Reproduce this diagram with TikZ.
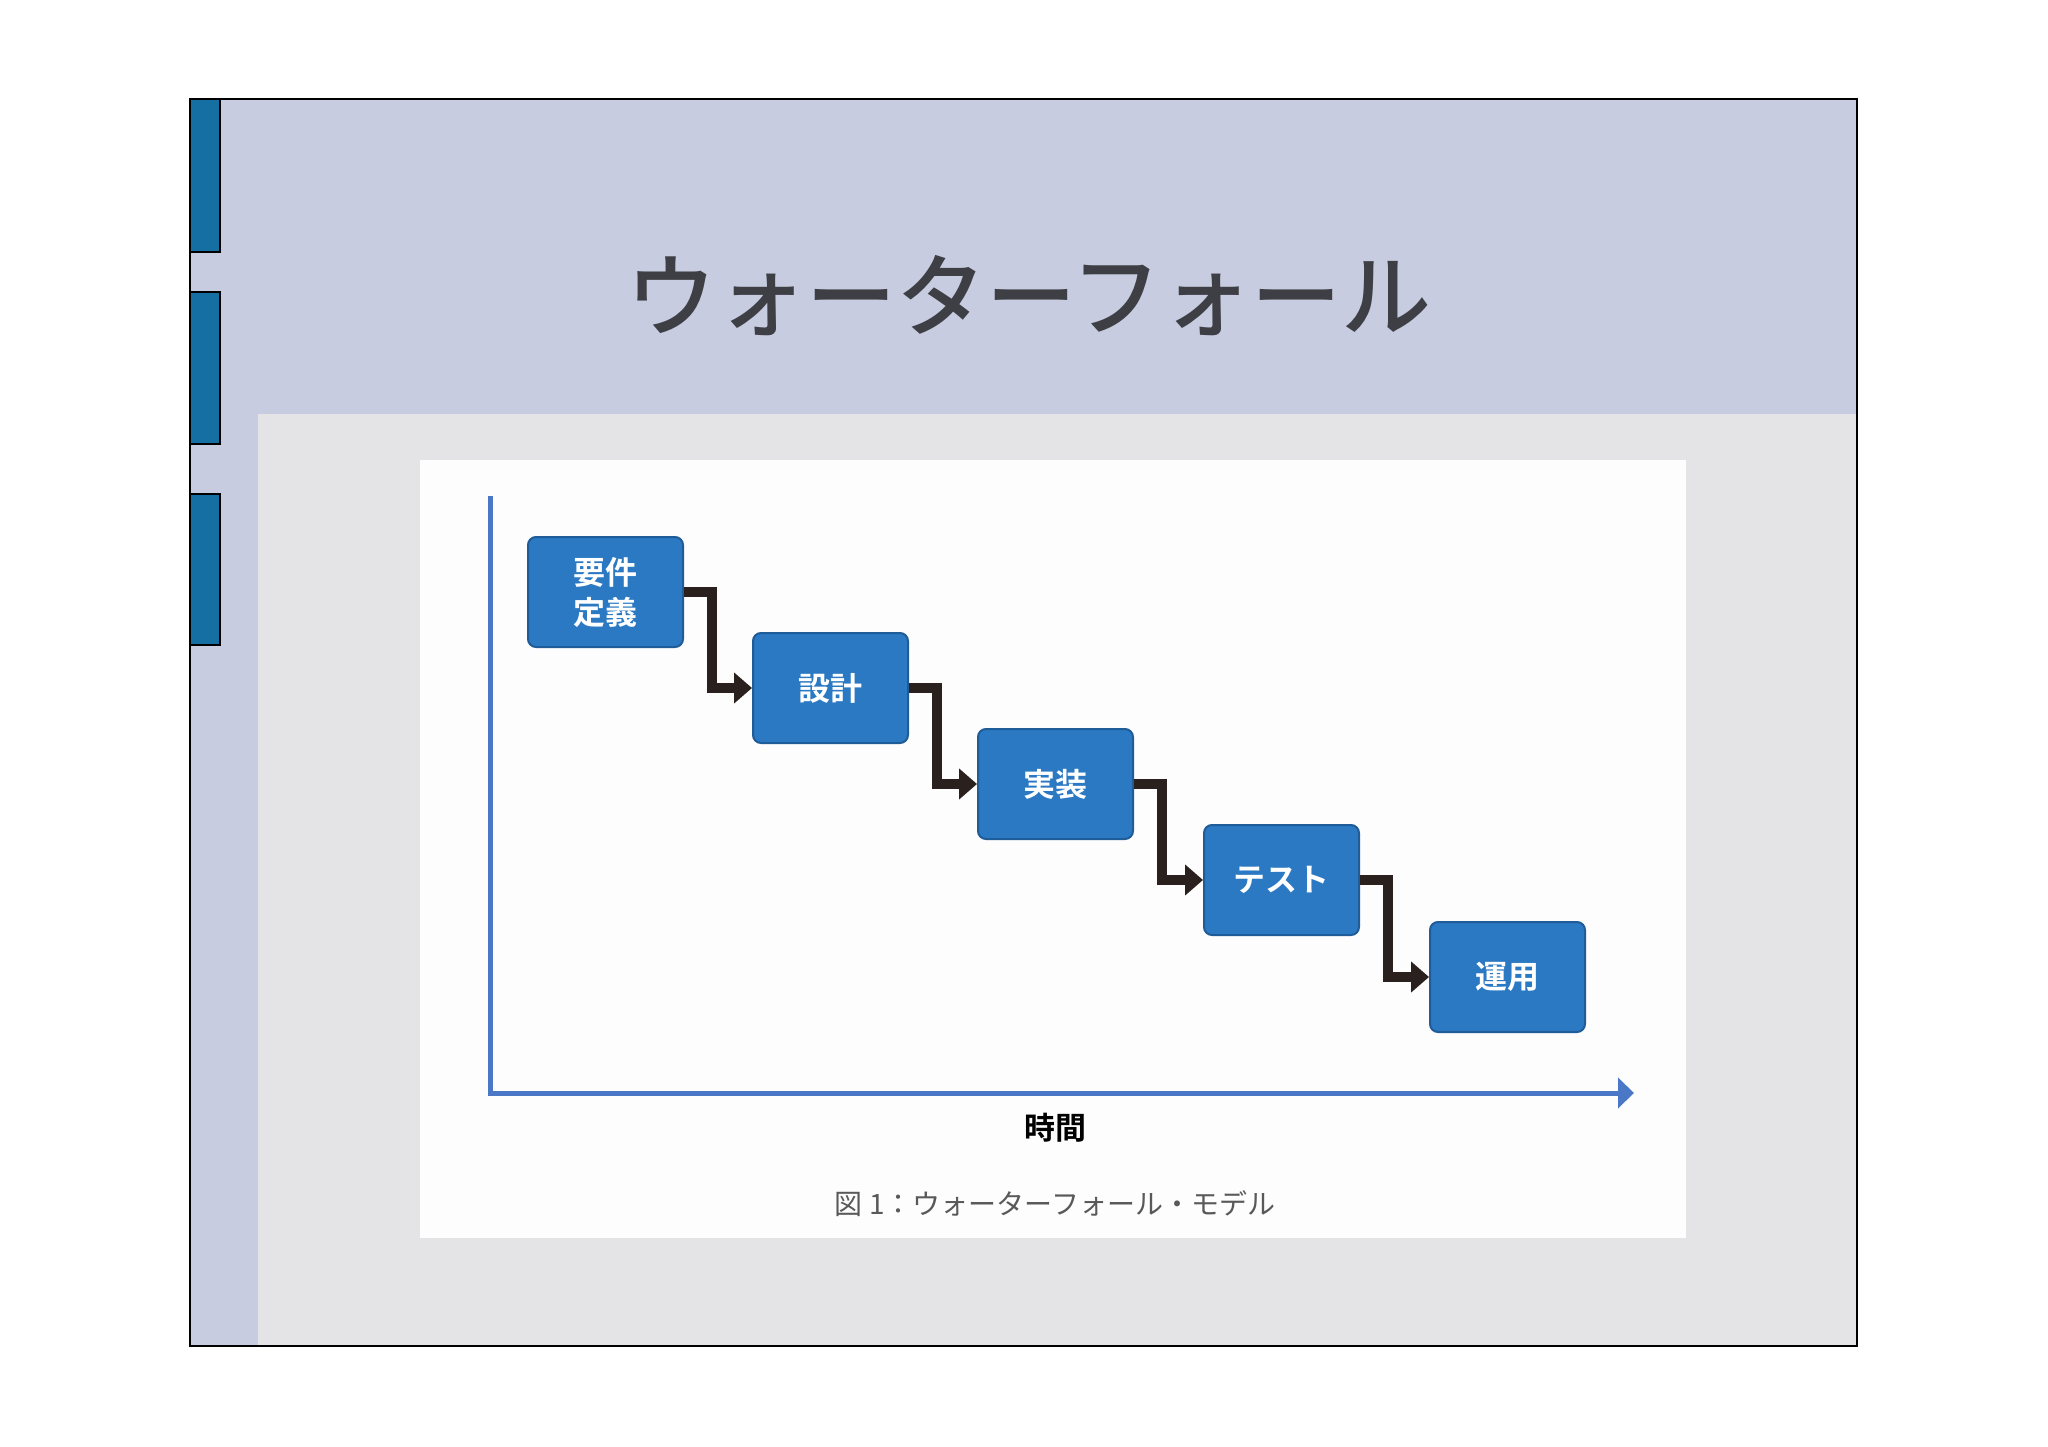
\documentclass[tikz,border=0pt]{standalone}
\usepackage{fontspec}
\usetikzlibrary{arrows.meta}
\newfontfamily\jp{Noto Sans CJK JP}
\newfontfamily\jpm{Noto Sans CJK JP Medium}
\newfontfamily\jpb{Noto Sans CJK JP Bold}
\definecolor{lav}{HTML}{C8CCE0}
\definecolor{panel}{HTML}{E4E4E6}
\definecolor{sheet}{HTML}{FDFDFE}
\definecolor{bar}{HTML}{156FA2}
\definecolor{boxblue}{HTML}{2B79C3}
\definecolor{boxedge}{HTML}{1F5C98}
\definecolor{axisblue}{HTML}{4A78C6}
\definecolor{conncol}{HTML}{2A201D}
\definecolor{titlecol}{HTML}{3E3F44}
\tikzset{
  sidebar/.style={fill=bar,draw=black,line width=2pt},
  stepbox/.style={rectangle,rounded corners=8pt,fill=boxblue,draw=boxedge,line width=2pt,
     minimum width=155pt,minimum height=110pt,inner sep=0pt,align=center,
     text=white,font=\jpb\fontsize{32}{40}\selectfont},
  conn/.style={draw=conncol,line width=9.5pt,-{Triangle[length=18pt,width=30pt]}},
  axis/.style={draw=axisblue,line width=5pt},
}
\begin{document}
\begin{tikzpicture}[x=1pt,y=-1pt]
\useasboundingbox (0,0) rectangle (2048,1447);
\fill[white] (0,0) rectangle (2048,1447);
% frame
\fill[lav] (190,99) rectangle (1857,1346);
\fill[panel] (258,414) rectangle (1857,1346);
\draw[black,line width=1.5pt] (190,99) rectangle (1857,1346);
% side bars
\draw[sidebar] (190,99) rectangle (220,252);
\draw[sidebar] (190,292) rectangle (220,444);
\draw[sidebar] (190,494) rectangle (220,645);
% title
\node[text=titlecol,font=\jpm\fontsize{90}{100}\selectfont,anchor=center] (title) at (1029,296) {ウォーターフォール};
% white sheet
\fill[sheet] (420,460) rectangle (1686,1238);
% axes
\coordinate (ytop) at (490,496);
\coordinate (origin) at (490,1093);
\coordinate (xend) at (1634,1093);
\draw[axis] (ytop) -- (origin);
\draw[axis,-{Triangle[length=16pt,width=30pt]}] (488,1093) -- (xend);
% boxes
\node[stepbox] (b1) at (605.5,592) {要件\\定義};
\node[stepbox] (b2) at (830.5,688) {設計};
\node[stepbox] (b3) at (1055.5,784) {実装};
\node[stepbox] (b4) at (1281.5,880) {テスト};
\node[stepbox] (b5) at (1507.5,977) {運用};
% connectors
\draw[conn] (b1.east) -- ++(28,0) |- (b2.west);
\draw[conn] (b2.east) -- ++(28,0) |- (b3.west);
\draw[conn] (b3.east) -- ++(28,0) |- (b4.west);
\draw[conn] (b4.east) -- ++(28,0) |- (b5.west);
% labels
\node[font=\jpb\fontsize{31}{36}\selectfont,text=black] (time) at (1055,1128) {時間};
\node[font=\jp\fontsize{28}{32}\selectfont,text=black!65] (cap) at (1055,1204) {図 1：ウォーターフォール・モデル};
\end{tikzpicture}
\end{document}
